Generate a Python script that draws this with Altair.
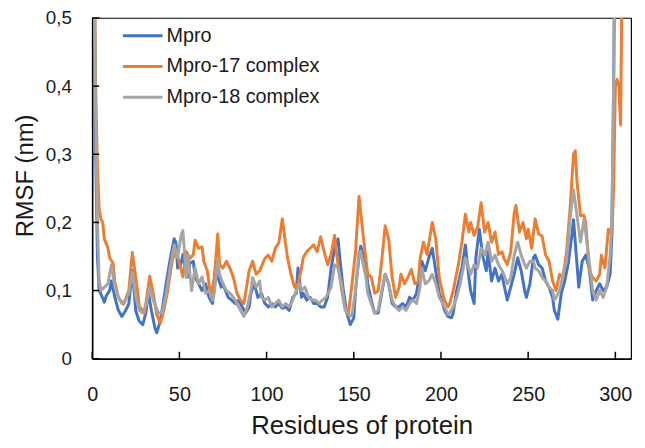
import altair as alt
import pandas as pd

series_names = ["Mpro", "Mpro-17 complex", "Mpro-18 complex"]
series_colors = ["#4472C4", "#ED7D31", "#A5A5A5"]
x_ticks = [0, 50, 100, 150, 200, 250, 300]
y_ticks = [0, 0.1, 0.2, 0.3, 0.4, 0.5]

mpro_res = [1, 2, 3, 4, 5, 7, 8, 10, 11, 13, 15, 17, 19, 21, 23, 25, 27, 29, 31, 32, 34, 36, 37, 39,
            41, 43, 45, 47, 48, 49, 51, 52, 54, 55, 56, 58, 59, 61, 63, 65, 67, 69, 71, 72, 74, 75,
            77, 78, 80, 82, 84, 86, 88, 90, 91, 93, 95, 97, 99, 101, 103, 105, 107, 109, 111, 113,
            115, 117, 118, 120, 121, 123, 125, 127, 129, 131, 133, 135, 137, 139, 141, 142, 144, 146,
            148, 150, 151, 153, 154, 155, 157, 158, 160, 162, 164, 166, 168, 170, 172, 174, 176, 178,
            180, 182, 184, 186, 188, 189, 191, 193, 195, 197, 199, 201, 202, 204, 206, 207, 209, 212,
            214, 216, 217, 219, 220, 222, 224, 226, 227, 229, 231, 233, 235, 236, 238, 240, 242, 244,
            246, 248, 249, 251, 253, 254, 256, 258, 260, 262, 264, 265, 267, 269, 271, 273, 275, 276,
            277, 279, 281, 283, 285, 287, 289, 291, 293, 295, 297, 298, 299, 300, 301, 302]
mpro_val = [0.62, 0.30, 0.15, 0.10, 0.095, 0.083, 0.092, 0.10, 0.114, 0.09, 0.071, 0.062, 0.07, 0.081,
            0.13, 0.07, 0.055, 0.05, 0.07, 0.10, 0.07, 0.045, 0.038, 0.055,
            0.086, 0.12, 0.15, 0.176, 0.17, 0.133, 0.14, 0.153, 0.125, 0.12, 0.14, 0.143, 0.12, 0.11,
            0.10, 0.11, 0.09, 0.081, 0.14, 0.12, 0.105, 0.11,
            0.096, 0.09, 0.086, 0.081, 0.086, 0.076, 0.067, 0.076, 0.096, 0.11, 0.09, 0.096, 0.081,
            0.076, 0.081, 0.076, 0.081, 0.074, 0.076, 0.071,
            0.09, 0.096, 0.133, 0.09, 0.096, 0.086, 0.09, 0.081, 0.081, 0.076, 0.076, 0.09, 0.133,
            0.162, 0.176, 0.148, 0.10, 0.067,
            0.05, 0.06, 0.10, 0.15, 0.165, 0.157, 0.14, 0.11, 0.086, 0.067, 0.067, 0.096, 0.124, 0.11,
            0.081, 0.076, 0.076, 0.081,
            0.076, 0.09, 0.086, 0.096, 0.129, 0.143, 0.129, 0.148, 0.162, 0.129, 0.096, 0.081, 0.071,
            0.062, 0.06, 0.067, 0.10, 0.133,
            0.167, 0.119, 0.10, 0.081, 0.148, 0.19, 0.15, 0.129, 0.157, 0.114, 0.133, 0.114, 0.124,
            0.11, 0.086, 0.105, 0.124, 0.148,
            0.129, 0.10, 0.09, 0.11, 0.148, 0.152, 0.138, 0.133, 0.114, 0.105, 0.09, 0.071, 0.058,
            0.096, 0.114, 0.14, 0.18, 0.204,
            0.171, 0.105, 0.143, 0.152, 0.133, 0.086, 0.10, 0.11, 0.10, 0.105, 0.124, 0.181, 0.40,
            0.70, 0.90, 1.0]

m17_res = [1, 2, 3, 4, 5, 6, 7, 9, 10, 12, 13, 15, 18, 21, 23, 25, 27, 30, 33, 35, 37, 39, 41, 43,
           46, 48, 50, 52, 54, 56, 58, 59, 61, 63, 64, 66, 68, 70, 72, 73, 75, 77, 79, 81, 83, 85,
           87, 90, 92, 94, 96, 99, 101, 103, 105, 107, 109, 110, 112, 114, 116, 118, 120, 121, 123,
           125, 127, 129, 131, 133, 135, 137, 139, 140, 142, 144, 146, 147, 149, 151, 153, 154, 156,
           158, 160, 162, 164, 166, 168, 170, 172, 174, 176, 177, 179, 181, 183, 185, 187, 188, 190,
           192, 195, 197, 199, 201, 202, 204, 205, 207, 210, 212, 214, 216, 217, 219, 221, 223, 225,
           227, 229, 231, 233, 235, 236, 238, 240, 242, 243, 245, 247, 249, 250, 252, 254, 256, 258,
           260, 262, 264, 266, 268, 270, 272, 274, 276, 277, 278, 280, 282, 283, 285, 287, 289, 291,
           292, 294, 296, 298, 299, 300, 301, 302, 303, 304, 305, 306]
m17_val = [0.62, 0.40, 0.28, 0.22, 0.205, 0.20, 0.175, 0.163, 0.148, 0.14, 0.112, 0.09, 0.08, 0.10,
           0.156, 0.12, 0.077, 0.067, 0.121, 0.096, 0.065, 0.052, 0.07, 0.096,
           0.145, 0.16, 0.14, 0.12, 0.157, 0.147, 0.153, 0.174, 0.162, 0.164, 0.143, 0.129, 0.09,
           0.119, 0.183, 0.138, 0.133, 0.143, 0.133, 0.119, 0.096, 0.086,
           0.081, 0.129, 0.143, 0.124, 0.129, 0.147, 0.152, 0.143, 0.162, 0.17, 0.205, 0.186, 0.148,
           0.124, 0.105, 0.11, 0.133, 0.148, 0.157,
           0.162, 0.167, 0.157, 0.179, 0.157, 0.138, 0.153, 0.181, 0.157, 0.119, 0.086, 0.067, 0.067,
           0.11, 0.157, 0.238, 0.214, 0.167,
           0.124, 0.12, 0.096, 0.10, 0.143, 0.195, 0.176, 0.119, 0.09, 0.105, 0.124, 0.11, 0.119,
           0.131, 0.11, 0.114, 0.147, 0.171,
           0.153, 0.20, 0.176, 0.119, 0.096, 0.086, 0.076, 0.081, 0.10, 0.138, 0.171, 0.212, 0.186,
           0.20, 0.181, 0.193, 0.229, 0.186,
           0.20, 0.171, 0.186, 0.153, 0.157, 0.148, 0.138, 0.157, 0.214, 0.225, 0.186, 0.20, 0.176,
           0.19, 0.162, 0.205, 0.183, 0.18,
           0.152, 0.143, 0.114, 0.10, 0.124, 0.119, 0.157, 0.219, 0.30, 0.305, 0.26, 0.21, 0.21, 0.20,
           0.13, 0.119, 0.114, 0.124,
           0.152, 0.133, 0.19, 0.181, 0.25, 0.40, 0.41, 0.40, 0.343, 0.60, 0.80, 1.0]

m18_res = [1, 2, 3, 4, 5, 7, 9, 11, 13, 15, 17, 19, 21, 23, 25, 27, 29, 31, 33, 35, 38, 40, 42, 45,
           47, 48, 49, 51, 52, 54, 55, 57, 59, 61, 63, 65, 67, 69, 70, 72, 73, 75, 77, 79, 81, 83,
           85, 87, 89, 91, 92, 94, 96, 97, 99, 101, 103, 105, 107, 109, 111, 113, 115, 117, 119, 120,
           122, 124, 126, 128, 130, 132, 134, 137, 139, 141, 143, 145, 148, 149, 151, 153, 154, 155,
           157, 158, 160, 162, 164, 166, 168, 170, 172, 174, 176, 178, 180, 182, 184, 186, 188, 189,
           191, 193, 195, 197, 199, 201, 202, 204, 205, 207, 209, 211, 214, 216, 217, 219, 221, 223,
           225, 227, 229, 231, 233, 235, 236, 238, 240, 242, 244, 246, 248, 249, 251, 253, 254, 256,
           258, 260, 262, 264, 265, 266, 268, 270, 272, 274, 276, 278, 280, 282, 283, 285, 287, 289,
           291, 293, 295, 297, 298, 299, 300, 301, 302]
m18_val = [0.65, 0.35, 0.20, 0.115, 0.10, 0.105, 0.11, 0.138, 0.105, 0.09, 0.081, 0.086, 0.096, 0.127,
           0.09, 0.071, 0.067, 0.08, 0.105, 0.086, 0.067, 0.067, 0.09, 0.138,
           0.167, 0.157, 0.148, 0.181, 0.188, 0.119, 0.152, 0.10, 0.133, 0.11, 0.12, 0.096, 0.10,
           0.086, 0.096, 0.145, 0.124, 0.11, 0.10, 0.096, 0.09, 0.081,
           0.071, 0.062, 0.076, 0.10, 0.119, 0.105, 0.114, 0.09, 0.086, 0.09, 0.076, 0.081, 0.086,
           0.076, 0.081, 0.076, 0.086, 0.10, 0.11, 0.10,
           0.105, 0.09, 0.086, 0.086, 0.081, 0.086, 0.09, 0.105, 0.138, 0.133, 0.11, 0.071, 0.062,
           0.065, 0.10, 0.155, 0.158, 0.143,
           0.119, 0.096, 0.081, 0.067, 0.071, 0.10, 0.124, 0.11, 0.086, 0.076, 0.071, 0.076, 0.071,
           0.081, 0.086, 0.081, 0.105, 0.133,
           0.11, 0.114, 0.124, 0.11, 0.09, 0.081, 0.076, 0.065, 0.067, 0.076, 0.09, 0.11, 0.148,
           0.133, 0.124, 0.138, 0.133, 0.162,
           0.152, 0.171, 0.143, 0.152, 0.138, 0.129, 0.124, 0.11, 0.119, 0.152, 0.171, 0.152, 0.138,
           0.133, 0.143, 0.143, 0.133, 0.129,
           0.119, 0.114, 0.105, 0.10, 0.086, 0.09, 0.10, 0.124, 0.143, 0.204, 0.248, 0.21, 0.171,
           0.204, 0.186, 0.143, 0.10, 0.086,
           0.10, 0.09, 0.105, 0.152, 0.21, 0.40, 0.70, 0.90, 1.0]

rows = []
for name, res, val in zip(series_names, [mpro_res, m17_res, m18_res], [mpro_val, m17_val, m18_val]):
    n = min(len(res), len(val))
    for r, v in zip(res[:n], val[:n]):
        rows.append({"residue": r, "rmsf": v, "series": name})
df = pd.DataFrame(rows)

xtick_df = pd.DataFrame({"residue": x_ticks})
ytick_df = pd.DataFrame({"rmsf": y_ticks})

W, H = 544, 344
TOP = 8
TICK = 7
FONT = "Liberation Sans"
TXT = "#1a1a1a"

x_scale = alt.Scale(domain=[0, 309], nice=False, zero=False)
y_scale = alt.Scale(domain=[0, 0.5], nice=False)

y_label_expr = "datum.value == 0 ? '0' : replace(format(datum.value, '.1f'), '.', ',')"

x_axis = alt.Axis(values=x_ticks, title="Residues of protein", ticks=False, tickSize=0,
                  labelPadding=26, labelFlush=False, domainColor="black", domainWidth=1.5,
                  labelFontSize=20, titleFontSize=26, titlePadding=9, grid=False,
                  labelColor=TXT, titleColor=TXT, labelFont=FONT, titleFont=FONT,
                  titleFontWeight="normal")
y_axis = alt.Axis(values=y_ticks, title="RMSF (nm)", ticks=False, tickSize=0,
                  labelPadding=21, labelExpr=y_label_expr, domainColor="black",
                  domainWidth=1.5, labelFontSize=19, titleFontSize=24,
                  titleX=-60, titleY=159, titleBaseline="alphabetic", titleAngle=270,
                  titleAlign="center",
                  grid=False, labelColor=TXT, titleColor=TXT, labelFont=FONT,
                  titleFont=FONT, titleFontWeight="normal")

lines = alt.Chart(df).mark_line(strokeWidth=3, clip=True, strokeJoin="round").encode(
    x=alt.X("residue:Q", scale=x_scale, axis=x_axis),
    y=alt.Y("rmsf:Q", scale=y_scale, axis=y_axis),
    color=alt.Color("series:N", scale=alt.Scale(domain=series_names, range=series_colors),
                    legend=alt.Legend(title=None, orient="none", legendX=41, legendY=8,
                                      symbolType="M-4,0H4", symbolSize=100, symbolStrokeWidth=3,
                                      labelFontSize=20, labelFont=FONT, labelColor=TXT,
                                      labelOffset=14, rowPadding=11, padding=0)),
)

# inward-pointing tick marks at the axis tick values, positioned through the shared scales
x_tick_marks = alt.Chart(xtick_df).mark_rule(color="black", strokeWidth=1.5).encode(
    x=alt.X("residue:Q", scale=x_scale, axis=x_axis),
    y=alt.value(H),
    y2=alt.value(H - TICK),
)
y_tick_marks = alt.Chart(ytick_df).mark_rule(color="black", strokeWidth=1.5).encode(
    y=alt.Y("rmsf:Q", scale=y_scale, axis=y_axis),
    x=alt.value(0),
    x2=alt.value(TICK),
)

chart = alt.layer(lines, x_tick_marks, y_tick_marks).properties(
    width=W, height=H,
    autosize=alt.AutoSizeParams(type="none"),
    padding={"left": 85, "top": TOP, "right": 6, "bottom": 80},
).configure_view(stroke="black", strokeWidth=1.2)

chart.save("out.html", embed_options={"renderer": "svg", "actions": False})
